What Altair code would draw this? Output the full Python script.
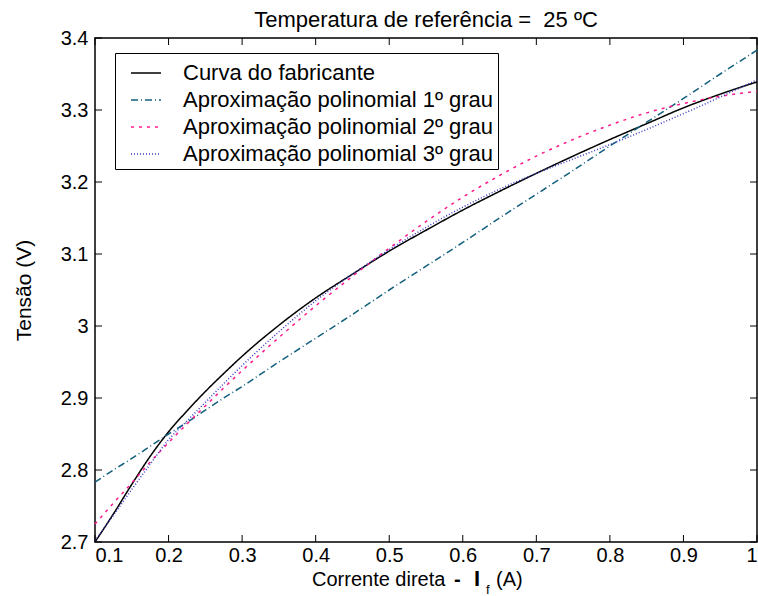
import altair as alt
import pandas as pd

# ---- data ----
corrente = [0.1, 0.125, 0.15, 0.175, 0.2, 0.225, 0.25, 0.275, 0.3, 0.35, 0.4, 0.45, 0.5,
            0.55, 0.6, 0.65, 0.7, 0.75, 0.8, 0.85, 0.9, 0.95, 1.0]
fabricante = [2.700, 2.739, 2.780, 2.819, 2.853, 2.882, 2.909, 2.934, 2.958, 3.001, 3.039, 3.072, 3.104,
              3.133, 3.161, 3.187, 3.212, 3.236, 3.259, 3.281, 3.303, 3.322, 3.339]
grau1 = [2.783, 2.800, 2.816, 2.833, 2.850, 2.866, 2.883, 2.900, 2.916, 2.950, 2.983, 3.016, 3.050,
         3.083, 3.116, 3.150, 3.183, 3.216, 3.250, 3.283, 3.316, 3.350, 3.383]
grau2 = [2.725, 2.754, 2.782, 2.811, 2.838, 2.864, 2.889, 2.914, 2.938, 2.984, 3.028, 3.069, 3.108,
         3.145, 3.179, 3.209, 3.236, 3.259, 3.279, 3.296, 3.309, 3.319, 3.326]
grau3 = [2.702, 2.737, 2.773, 2.808, 2.842, 2.868, 2.894, 2.920, 2.945, 2.992, 3.035, 3.072, 3.106,
         3.137, 3.165, 3.190, 3.212, 3.232, 3.252, 3.273, 3.295, 3.318, 3.342]

series_names = ["Curva do fabricante",
                "Aproximação polinomial 1º grau",
                "Aproximação polinomial 2º grau",
                "Aproximação polinomial 3º grau"]
series_colors = ["#000000", "#13607e", "#ff1a8c", "#3a3ac4"]
series_dashes = [[1, 0], [7, 3, 1, 3], [3, 5], [1, 2]]

x_ticks = [0.1, 0.2, 0.3, 0.4, 0.5, 0.6, 0.7, 0.8, 0.9, 1.0]
y_ticks = [2.7, 2.8, 2.9, 3.0, 3.1, 3.2, 3.3, 3.4]

titulo = "Temperatura de referência = \u00a025 ºC"
y_titulo = "Tensão (V)"
x_titulo_partes = ["Corrente direta", "-", "I", "f", "(A)"]

FONT = "Liberation Sans"
W, H = 662, 504

rows = []
for name, ys in zip(series_names, [fabricante, grau1, grau2, grau3]):
    for x, y in zip(corrente, ys):
        rows.append({"serie": name, "I": x, "V": y})
df = pd.DataFrame(rows)

xscale = alt.Scale(domain=[0.1, 1.0], nice=False, zero=False)
yscale = alt.Scale(domain=[2.7, 3.4], nice=False, zero=False)
axis_style = dict(labelFont=FONT, labelFontSize=20, labelColor="black", ticks=False, tickSize=0,
                  domain=False, grid=False,
                  titleFont=FONT, titleFontSize=21, titleFontWeight="normal", titleColor="black")
xaxis = alt.Axis(values=x_ticks, format="~g", title=None, labelPadding=3, **axis_style)
yaxis = alt.Axis(values=y_ticks, format="~g", title=y_titulo, labelPadding=7,
                 titlePadding=26, **axis_style)

legend = alt.Legend(
    orient="none", legendX=20, legendY=15, title=None,
    symbolType="stroke", symbolSize=900, symbolStrokeWidth=1.5,
    labelFont=FONT, labelFontSize=22, labelColor="black", labelLimit=0,
    labelOffset=21, rowPadding=-12, padding=4, symbolOffset=11,
    strokeColor="black", fillColor="white", cornerRadius=0,
)

lines = alt.Chart(df).mark_line(strokeWidth=1.5, interpolate="monotone").encode(
    x=alt.X("I:Q", scale=xscale, axis=xaxis),
    y=alt.Y("V:Q", scale=yscale, axis=yaxis),
    color=alt.Color("serie:N", scale=alt.Scale(domain=series_names, range=series_colors),
                    legend=legend),
    strokeDash=alt.StrokeDash("serie:N", scale=alt.Scale(domain=series_names, range=series_dashes),
                              legend=legend),
    order=alt.Order("I:Q"),
)

xt = pd.DataFrame({"I": x_ticks})
yt = pd.DataFrame({"V": y_ticks})
TL = 7
tick_bottom = alt.Chart(xt).mark_rule(color="black", strokeWidth=1).encode(
    x=alt.X("I:Q", scale=xscale, axis=xaxis), y=alt.value(H), y2=alt.value(H - TL))
tick_top = alt.Chart(xt).mark_rule(color="black", strokeWidth=1).encode(
    x=alt.X("I:Q", scale=xscale, axis=xaxis), y=alt.value(0), y2=alt.value(TL))
tick_left = alt.Chart(yt).mark_rule(color="black", strokeWidth=1).encode(
    y=alt.Y("V:Q", scale=yscale, axis=yaxis), x=alt.value(0), x2=alt.value(TL))
tick_right = alt.Chart(yt).mark_rule(color="black", strokeWidth=1).encode(
    y=alt.Y("V:Q", scale=yscale, axis=yaxis), x=alt.value(W), x2=alt.value(W - TL))

def txt(s, x, y, size=20, weight="normal", align="left"):
    return alt.Chart(pd.DataFrame({"s": [s]})).mark_text(
        align=align, baseline="alphabetic", font=FONT, fontSize=size,
        fontWeight=weight, color="black").encode(
        text="s:N", x=alt.value(x), y=alt.value(y))

text_layers = [
    txt(titulo, W / 2, -11, size=22, align="center"),
    txt(x_titulo_partes[0], 217, 548),
    txt(x_titulo_partes[1], 359, 548, weight="bold"),
    txt(x_titulo_partes[2], 379, 548, size=22, weight="bold"),
    txt(x_titulo_partes[3], 391, 556, size=13),
    txt(x_titulo_partes[4], 401, 548),
]

chart = alt.layer(lines, tick_bottom, tick_top, tick_left, tick_right, *text_layers).properties(
    width=W, height=H,
    background="white",
    autosize=alt.AutoSizeParams(type="none"),
    padding={"left": 95, "top": 38, "right": 1, "bottom": 54},
).configure_view(stroke="black", strokeWidth=1.5)

chart.save("out.html", embed_options={"renderer": "svg", "actions": False})
